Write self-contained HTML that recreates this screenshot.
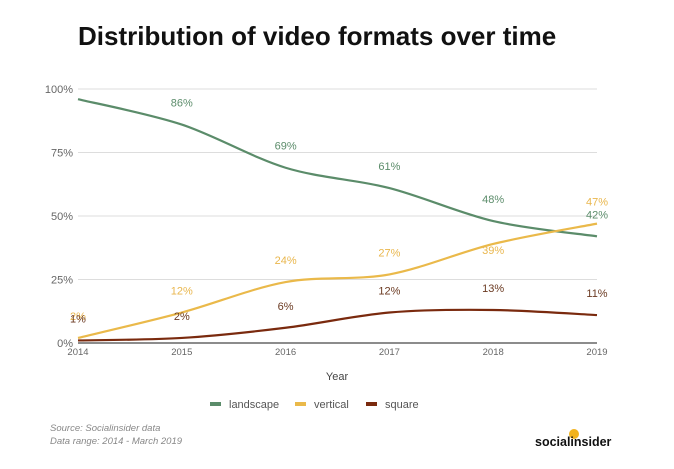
<!DOCTYPE html>
<html><head><meta charset="utf-8">
<style>
body{margin:0;background:#fff;width:674px;height:469px;overflow:hidden;font-family:"Liberation Sans",sans-serif;}
svg{display:block}
</style></head>
<body>
<svg id="chart" width="674" height="469">
<text x="78" y="45" font-size="26" font-weight="bold" fill="#111">Distribution of video formats over time</text>
<g id="grid"></g>
<g id="series"></g>
<g id="labels"></g>
<text x="337" y="380" font-size="11" fill="#444" text-anchor="middle">Year</text>
<g>
<rect x="210" y="402" width="11" height="4" fill="#5b8c6a"/>
<text x="229" y="408" font-size="11" fill="#555">landscape</text>
<rect x="295" y="402" width="11" height="4" fill="#eab94a"/>
<text x="314" y="408" font-size="11" fill="#555">vertical</text>
<rect x="366" y="402" width="11" height="4" fill="#7a2a0e"/>
<text x="385" y="408" font-size="11" fill="#555">square</text>
</g>
<text x="50" y="431" font-size="9.5" font-style="italic" fill="#888">Source: Socialinsider data</text>
<text x="50" y="444" font-size="9.5" font-style="italic" fill="#888">Data range: 2014 - March 2019</text>
<circle cx="574" cy="434" r="5" fill="#f2b21b"/>
<text x="535" y="446" font-size="12.5" font-weight="bold" fill="#111">socialinsider</text>
</svg>
<script>
const years=["2014","2015","2016","2017","2018","2019"];
const landscape=[96,86,69,61,48,42];
const vertical=[2,12,24,27,39,47];
const square=[1,2,6,12,13,11];
const yTicks=[0,25,50,75,100];
const NS="http://www.w3.org/2000/svg";
const X0=78,X1=597,Y0=343,Y1=89;
const xs=i=>X0+(X1-X0)*i/(years.length-1);
const ys=v=>Y0-(Y0-Y1)*v/100;
function mk(t,a,p){const e=document.createElementNS(NS,t);for(const k in a)e.setAttribute(k,a[k]);p.appendChild(e);return e;}
const grid=document.getElementById('grid');
yTicks.forEach(t=>{
 const l=mk('line',{x1:X0,x2:X1,y1:ys(t),y2:ys(t),stroke:t===0?'#666':'#ddd','stroke-width':t===0?1.5:1},grid);
 
 
 const tx=mk('text',{x:X0-5,y:ys(t)+4,'font-size':11,fill:'#666','text-anchor':'end'},grid);
 tx.textContent=t+'%';
 
 
});
years.forEach((y,i)=>{
 const tx=mk('text',{x:xs(i),y:355,'font-size':9.5,fill:'#666','text-anchor':'middle'},grid);
 tx.textContent=y;
 
 
});
function path(vals){
 const p=vals.map((v,i)=>[xs(i),ys(v)]);
 let d='M'+p[0][0]+','+p[0][1];
 for(let i=0;i<p.length-1;i++){
  const a=p[Math.max(0,i-1)],b=p[i],c=p[i+1],e=p[Math.min(p.length-1,i+2)];
  const t=0.16;
  d+=' C'+(b[0]+(c[0]-a[0])*t)+','+(b[1]+(c[1]-a[1])*t)+' '+(c[0]-(e[0]-b[0])*t)+','+(c[1]-(e[1]-b[1])*t)+' '+c[0]+','+c[1];
 }
 return d;
}
const ser=document.getElementById('series'),lab=document.getElementById('labels');
const defs=[['landscape',landscape,'#5b8c6a','#5b8c6a'],['vertical',vertical,'#eab94a','#e9b64c'],['square',square,'#7a2a0e','#6b3a22']];
defs.forEach(([n,vals,col,lc])=>{
 const pth=mk('path',{d:path(vals),fill:'none',stroke:col,'stroke-width':2.2},ser);
 
 
 vals.forEach((v,i)=>{
  if(n==='landscape'&&i===0)return;
  const below=(n==='vertical'&&i===4);
  const ty=below?ys(v)+10:ys(v)-18;
  const tx=mk('text',{x:xs(i),y:ty,'font-size':11,fill:lc,'text-anchor':'middle'},lab);
  tx.textContent=v+'%';
  
  
 });
});
</script>
</body></html>
